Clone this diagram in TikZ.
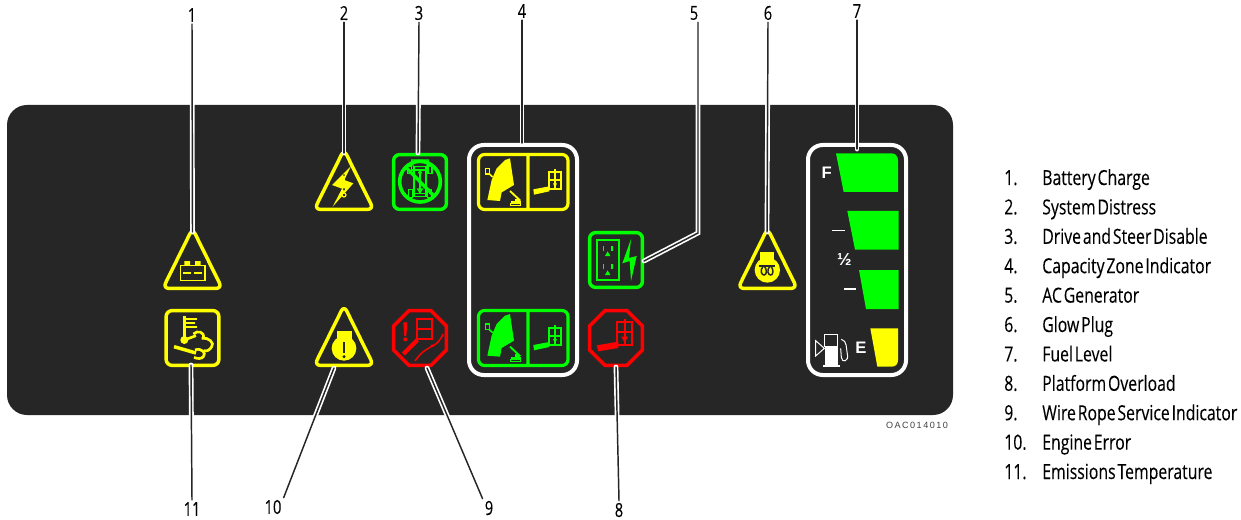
\documentclass[tikz,border=0pt]{standalone}
\usepackage{fontspec}
\setmainfont[FakeStretch=0.76,WordSpace=0.45,FakeBold=0.12]{Open Sans}
\newfontfamily\panelfont{Liberation Sans}
\definecolor{panelgray}{HTML}{272626}
\definecolor{ygo}{HTML}{FFFF00}
\definecolor{ggo}{HTML}{00FF00}
\definecolor{rgo}{HTML}{FF0000}
\newcommand{\pxfont}[1]{\fontsize{#1}{#1}\selectfont}
\newcommand{\ictri}[3]{\draw[ring,draw=#3,shift={(#1,#2)}] (28,-3.5) -- (57.6,56.4) -- (-1.6,56.4) -- cycle;}
\newcommand{\icsq}[3]{\draw[ring,draw=#3,shift={(#1,#2)}] (1.6,1.6) rectangle (54.4,56.4);}
\newcommand{\icoct}[3]{\draw[octa,draw=#3,shift={(#1,#2)}] (17,1.6) -- (39,1.6) -- (54.4,17) -- (54.4,41) -- (39,56.4) -- (17,56.4) -- (1.6,41) -- (1.6,17) -- cycle;}
\newcommand{\capicon}[1]{%
  \fill[#1] (150,85) -- (135,90) -- (110,115) -- (95,150) -- (82,210) -- (120,213) -- (125,187) -- (162,165) -- cycle;
  \draw[#1,line width=0.9pt] (77,115) rectangle (88,132);
  \draw[#1,line width=1.2pt] (88,132) -- (98,141);
  \draw[#1,line width=1.4pt] (150,183) -- (181,212);
  \fill[#1] (153,214) rectangle (182,221);
  \draw[#1,line width=0.9pt] (152,221) rectangle (181,227);
  \fill[#1] (166,206) rectangle (178,216);
  \fill[#1] (220,178) -- (268,169) -- (268,184) -- (222,194) -- cycle;
  \draw[#1,line width=1.7pt] (266,127) rectangle (304,178) (285,118) -- (285,178) (266,150) -- (304,150);
  \fill[#1] (279,160) -- (291,160) -- (285,174) -- cycle;
}
\tikzset{
  x=0.75pt,y=-0.75pt,
  ring/.style={line width=2.6pt,rounded corners=4.5pt,fill=none,line join=round},
  octa/.style={line width=2.6pt,line join=miter,fill=none},
  frame/.style={draw=white,line width=3pt,rounded corners=11pt,fill=none},
  leader/.style={draw=white,double=panelgray,double distance=1.1pt,line width=1.25pt,line cap=round},
  num/.style={inner sep=1.5pt,font=\pxfont{14.5}},
  listitem/.style={anchor=base west,inner sep=0pt,font=\pxfont{15.6}},
  zoomA/.style={shift={(140,130)},x=0.25pt,y=-0.25pt},
  zoomB/.style={shift={(460,130)},x=0.25pt,y=-0.25pt},
  zoomC/.style={shift={(730,130)},x=0.25pt,y=-0.25pt}
}
\begin{document}
\begin{tikzpicture}
\useasboundingbox (0,0) rectangle (1241,520);
\fill[panelgray,rounded corners=15pt] (7,105) rectangle (953,415);

% ---- frames and warning outlines
\draw[frame] (469,145) rectangle (577,375);
\draw[frame] (808,145) rectangle (906,375);
\ictri{164.5}{232}{ygo}
\ictri{316}{153}{ygo}
\ictri{316}{309}{ygo}
\ictri{739.5}{232}{ygo}
\icsq{392}{153}{ggo}
\icsq{164.5}{309}{ygo}
\icsq{588}{231}{ggo}
\icoct{392}{309}{rgo}
\icoct{588}{309}{rgo}

% ---- capacity zone panels
\draw[ring,draw=ygo,line width=2.4pt] (478.5,154.5) rectangle (568,209.5) (528,154.5) -- (528,209.5);
\draw[ring,draw=ggo,line width=2.4pt] (478.5,310.5) rectangle (568,365.5) (528,310.5) -- (528,365.5);
\begin{scope}[zoomB]
\capicon{ygo}
\begin{scope}[shift={(0,467)}]
\capicon{ggo}
\end{scope}
\end{scope}

% ---- battery, thermometer, warnings
\begin{scope}[zoomA]
% battery
\draw[ygo,line width=0.9pt] (122,407) rectangle (195,452);
\fill[ygo] (133,393) rectangle (150,407) (165,393) rectangle (182,407);
\draw[ygo,line width=1.2pt] (130,429) -- (152,429) (163,429) -- (186,429);
% lightning triangle
\fill[ygo] (633,108) -- (576,165) -- (606,176) -- (578,230) -- (640,160) -- (613,150) -- cycle;
\draw[panelgray,line width=2pt,line cap=round] (612,136) -- (612,178);
\draw[ygo,line width=1.1pt,line cap=round] (612,138) -- (612,174);
\draw[ygo,fill=panelgray,line width=0.9pt] (612,195) circle (6);
% thermometer / exhaust
\draw[ygo,line width=2pt] (133,558) -- (133,632);
\draw[ygo,line width=1.4pt] (133,568) -- (170,568) (133,579) -- (165,579) (133,590) -- (170,590);
\fill[ygo] (133,630) circle (12);
\draw[ygo,line width=2pt] (133,630) -- (168,617);
\draw[ygo,line width=2pt] (160,612) .. controls (172,600) and (195,605) .. (190,625);
\draw[ygo,line width=2pt] (185,625) .. controls (205,620) and (225,640) .. (215,650) .. controls (210,660) and (200,665) .. (192,662);
\draw[ygo,line width=2.6pt] (102,650) -- (168,669);
\draw[ygo,line width=2pt] (165,660) .. controls (185,652) and (200,670) .. (190,680) .. controls (185,687) and (172,687) .. (162,682);
% engine error
\fill[ygo] (612,655) circle (37);
\fill[ygo] (590,603) rectangle (635,632);
\draw[panelgray,line width=2pt] (612,636) -- (612,668);
\fill[panelgray] (612,680) circle (5);
% no drive / steer
\draw[ggo,line width=2.7pt] (840,155) circle (61);
\draw[ggo,line width=2.5pt] (796,110) -- (884,200);
\draw[ggo,line width=0.8pt] (822,110) rectangle (858,200);
\draw[ggo,line width=0.8pt] (815,90) -- (865,90) -- (860,110) -- (820,110) -- cycle;
\draw[ggo,line width=1pt] (803,108) rectangle (815,130) (864,108) rectangle (876,130);
\draw[ggo,line width=1pt] (805,178) rectangle (817,202) (862,178) rectangle (874,202);
\draw[ggo,line width=0.8pt] (815,120) -- (865,120) (815,190) -- (865,190);
\draw[ggo,line width=1.1pt] (840,125) -- (840,185);
\fill[ggo] (833,130) -- (847,130) -- (840,118) -- cycle (830,175) -- (850,175) -- (840,192) -- cycle;
% wire rope octagon
\fill[rgo] (790,577) -- (802,577) -- (799,618) -- (793,618) -- cycle;
\fill[rgo] (796,628) circle (6);
\draw[rgo,line width=1.7pt] (832,568) rectangle (877,628) (832,597) -- (877,597);
\draw[rgo,line width=3.2pt] (790,672) -- (832,630);
\draw[rgo,line width=1.1pt] (825,693) .. controls (845,665) and (850,665) .. (870,652);
\draw[rgo,line width=1.1pt] (873,650) .. controls (885,645) and (895,640) .. (910,612);
\fill[rgo] (865,655) -- (877,642) -- (880,650) -- cycle;
\end{scope}

% ---- outlet, platform overload
\begin{scope}[zoomB]
\draw[ggo,line width=1.5pt] (411,330) rectangle (478,450);
\draw[ggo,line width=1.2pt] (431,348) -- (431,362) (456,348) -- (456,362) (431,403) -- (431,417) (456,403) -- (456,417);
\fill[ggo] (435,378) -- (451,378) -- (443,364) -- cycle (435,435) -- (451,435) -- (443,421) -- cycle;
\fill[ggo] (513,327) -- (487,400) -- (509,393) -- (513,453) -- (530,378) -- (507,384) -- cycle;
\draw[rgo,line width=1.7pt] (471,577) rectangle (517,646) (494,568) -- (494,646) (471,606) -- (517,606);
\fill[rgo] (484,620) -- (504,620) -- (494,638) -- cycle;
\fill[rgo] (410,646) -- (475,635) -- (475,654) -- (415,664) -- cycle;
\end{scope}

% ---- glow plug, fuel gauge
\begin{scope}[zoomC]
\fill[ygo] (112,420) circle (38);
\fill[ygo] (90,366) rectangle (133,396);
\draw[panelgray,line width=1.1pt] (88,408) -- (135,408);
\draw[panelgray,line width=1.1pt] (100,408) .. controls (88,422) and (95,435) .. (102,435) .. controls (110,435) and (112,420) .. (103,408);
\draw[panelgray,line width=1.1pt] (120,408) .. controls (108,422) and (115,435) .. (122,435) .. controls (130,435) and (132,420) .. (123,408);

\fill[ggo] (318,70) -- (485,70) .. controls (497,70) and (504,80) .. (504,92) -- (504,186) -- (341,186) -- cycle;
\fill[ggo] (352,243) -- (506,243) -- (506,359) -- (375,359) -- cycle;
\fill[ggo] (387,420) -- (506,420) -- (506,537) -- (408,537) -- cycle;
\fill[ygo] (421,595) -- (504,595) -- (504,690) .. controls (504,702) and (497,710) .. (485,710) -- (442,710) -- cycle;
\draw[white,line width=1.2pt] (307,302) -- (344,302);
\draw[white,line width=1.2pt] (341,477) -- (379,477);
\node[white,inner sep=0pt,font=\panelfont\bfseries\pxfont{12.5}] (flabel) at (290,129) {F};
\node[white,inner sep=0pt,font=\panelfont\bfseries\pxfont{12.5}] (elabel) at (393,654) {E};
\node[white,inner sep=0pt,font=\panelfont\bfseries\pxfont{13}] (half) at (343,390) {½};
% pump
\draw[white,line width=0.75pt] (284,614) rectangle (323,650);
\fill[white] (284,650) rectangle (323,704);
\fill[white] (278,704) rectangle (330,710);
\draw[white,line width=0.75pt] (257,632) -- (257,678) -- (283,655) -- cycle;
\draw[white,line width=0.75pt] (334,628) .. controls (352,632) and (348,655) .. (352,672) .. controls (358,695) and (335,700) .. (334,682) -- (332,655);
\end{scope}

% ---- small reference code
\node[inner sep=0pt,text=black!75,font=\panelfont\pxfont{6.8}] (oac) at (917,425) {O\,A\,C\,0\,1\,4\,0\,1\,0};

% ---- callout anchors
\coordinate (a1) at (192.5,232);
\coordinate (a2) at (344,153);
\coordinate (a3) at (418,153);
\coordinate (a4) at (522,143);
\coordinate (b5) at (698,233);
\coordinate (a5) at (644,261);
\coordinate (a6) at (767,232);
\coordinate (a7) at (857,149);
\coordinate (a8) at (616,367);
\coordinate (a9) at (427,368);
\coordinate (a10) at (334,368);
\coordinate (a11) at (191,365);

\node[num] (n1) at (192,15) {1};
\node[num] (n2) at (344,13) {2};
\node[num] (n3) at (419,13) {3};
\node[num] (n4) at (522,11) {4};
\node[num] (n5) at (694,13) {5};
\node[num] (n6) at (768,13) {6};
\node[num] (n7) at (857,11) {7};
\node[num] (n8) at (619,510) {8};
\node[num] (n9) at (489,508) {9};
\node[num] (n10) at (273,507) {10};
\node[num] (n11) at (192,509) {11};

\draw[leader] (n1.south) -- (a1);
\draw[leader] (n2.south) -- (a2);
\draw[leader] (n3.south) -- (a3);
\draw[leader] (n4.south) -- (a4);
\draw[leader,line join=miter] (n5.south -| b5) -- (b5) -- (a5);
\draw[leader] (n6.south) -- (a6);
\draw[leader] (n7.south) -- (a7);
\draw[leader] (a8) -- (n8.north);
\draw[leader] (a9) -- (n9.north west);
\draw[leader] (a10) -- (n10.north east);
\draw[leader] (a11) -- (n11.north);

% ---- legend
\foreach \i/\t/\yy in {
  1/Battery Charge/185,
  2/System Distress/214.4,
  3/Drive and Steer Disable/243.8,
  4/Capacity Zone Indicator/273.2,
  5/AC Generator/302.6,
  6/Glow Plug/332,
  7/Fuel Level/361.4,
  8/Platform Overload/390.8,
  9/Wire Rope Service Indicator/420.2,
  10/Engine Error/449.6,
  11/Emissions Temperature/479}{
  \node[listitem] (lnum\i) at (1004,\yy) {\i.};
  \node[listitem] (ltxt\i) at (1042,\yy) {\t};
}
\end{tikzpicture}
\end{document}
